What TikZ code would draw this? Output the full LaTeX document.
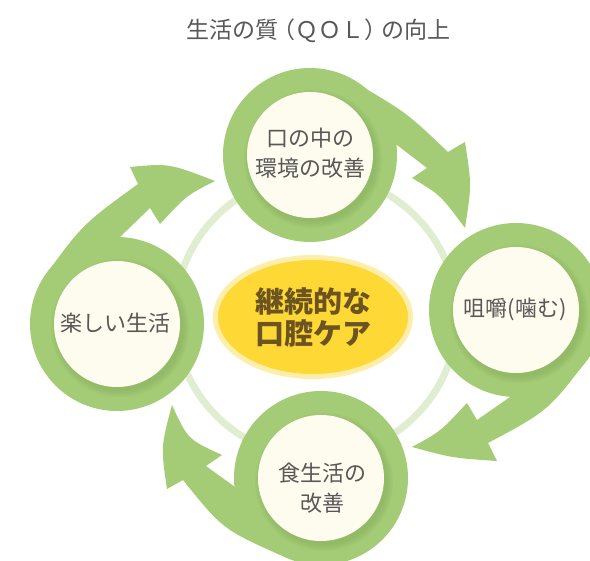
\documentclass[tikz,border=0pt]{standalone}
\usepackage{fontspec}
\setmainfont{Noto Sans CJK JP}
\usetikzlibrary{calc,shapes.geometric}
\definecolor{leaf}{HTML}{A4CC77}
\definecolor{leafdark}{HTML}{7FA855}
\definecolor{cream}{HTML}{FEFCEE}
\definecolor{pale}{HTML}{E1EDD0}
\definecolor{sun}{HTML}{FED834}
\definecolor{sunrim}{HTML}{FDEEAA}
\definecolor{ink}{HTML}{595757}
\definecolor{brown}{HTML}{6B5322}
\begin{document}
\begin{tikzpicture}[x=1pt,y=-1pt,
  ringnode/.style={circle,fill=leaf,minimum size=174pt,inner sep=0pt},
  corenode/.style={circle,fill=cream,minimum size=126pt,inner sep=0pt},
  label text/.style={text=ink,font=\fontsize{22}{30}\selectfont,align=center,inner sep=0pt},
  arrowshape/.style={fill=leaf},
  shadowdisc/.style={fill=leafdark,opacity=0.13}]
\useasboundingbox (0,0) rectangle (590,561);
\clip (0,0) rectangle (590,561);
% centres
\coordinate (cT) at (310,155);
\coordinate (cR) at (516,310);
\coordinate (cB) at (321,478);
\coordinate (cL) at (117,324);
\coordinate (cM) at (316,316);
% pale ring
\draw[pale,line width=7pt] (cM) circle (141pt);
% centre ellipse
\node[ellipse,fill=sun,draw=sunrim,line width=5pt,minimum width=195pt,minimum height=119pt,
  inner sep=0pt,text=brown,font=\fontsize{29}{32}\selectfont\bfseries,align=center]
  (core) at (313,317) {継続的な\\口腔ケア};
% arrows
\fill[arrowshape] (cT) -- (363,87) .. controls (407.5,113.5) .. (448,152) -- (465,142)
  .. controls (471.7,185) .. (465,228) .. controls (440.5,195) .. (412,178)
  -- (427,168) -- (397,145) -- cycle;
\fill[arrowshape] (cR) -- (590,356) .. controls (548.3,410.8) .. (488,443) -- (497,461)
  .. controls (452.5,458) .. (412,447) .. controls (440.2,431.7) .. (467,403)
  -- (477,420) -- (510,397) -- cycle;
\fill[arrowshape] (cB) -- (280,555) .. controls (222.6,529.1) .. (183,480) -- (167,489)
  .. controls (160.8,447) .. (172,405) .. controls (187.7,439.3) .. (222,455)
  -- (206,466) -- (235,487) -- cycle;
\fill[arrowshape] (cL) -- (42,280) .. controls (82.4,224.4) .. (138,184) -- (130,167)
  .. controls (169.2,163.3) .. (215,181) .. controls (186.8,195.2) .. (160,224)
  -- (150,208) -- (119,238) -- cycle;
% bubbles
\foreach \c in {cT,cR,cB,cL}{
  \node[ringnode] at (\c) {};
  \foreach \rr in {69,67,65,63}{
    \fill[shadowdisc] ($(\c)+(3,4)$) circle (\rr pt);
  }
}
\node[corenode] (ringT) at (cT) {};
\node[corenode] (ringR) at (cR) {};
\node[corenode] (ringB) at (cB) {};
\node[corenode] (ringL) at (cL) {};
\node[label text] (txtT) at (310,153) {口の中の\\環境の改善};
\node[label text] (txtR) at (515,309) {咀嚼(噛む)};
\node[label text] (txtB) at (322,488) {食生活の\\改善};
\node[label text] (txtL) at (115,323) {楽しい生活};
% title
\node[text=ink,font=\fontsize{23}{26}\selectfont] (title) at (318,31)
  {生活の質\kern-6pt（ＱＯＬ）\kern-6ptの向上};
\end{tikzpicture}
\end{document}
